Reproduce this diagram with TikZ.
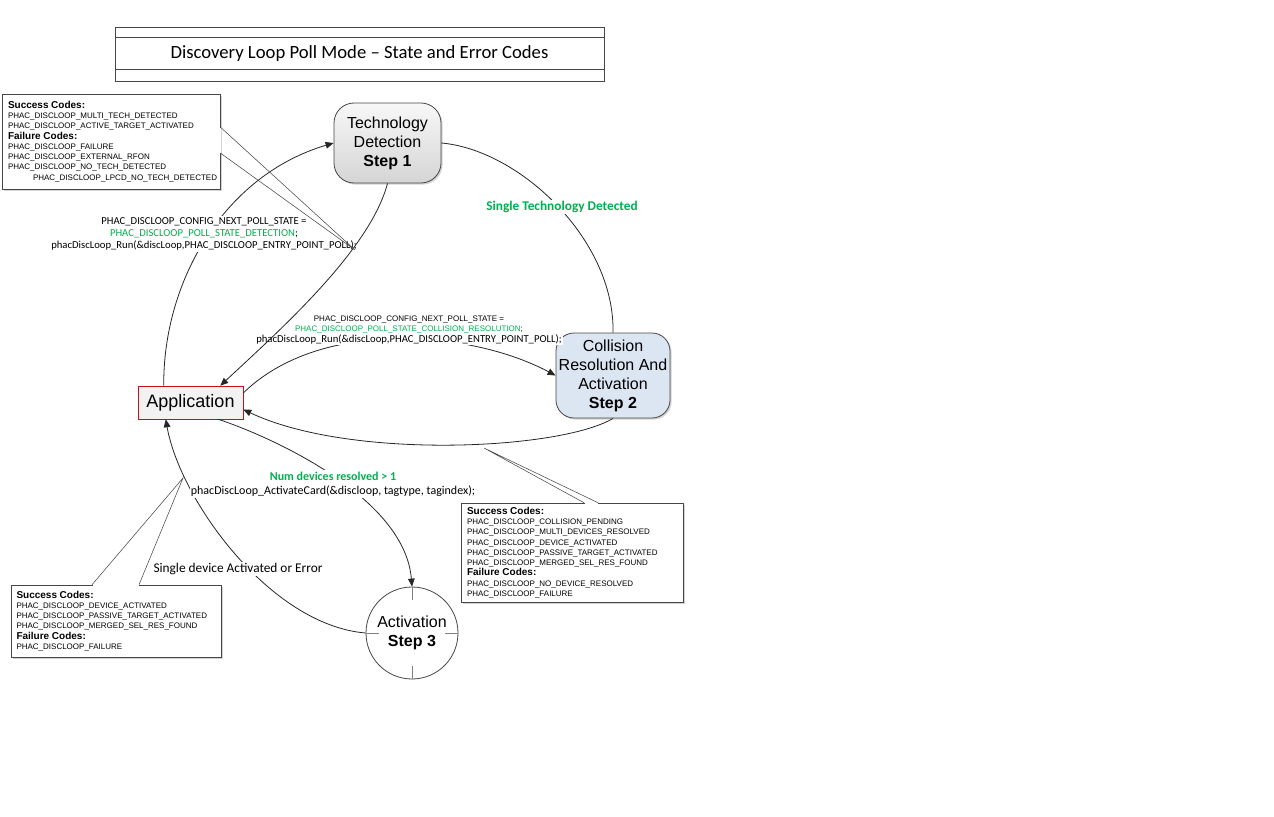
\documentclass[tikz,border=0pt]{standalone}
\usepackage{fontspec}
\setmainfont{Liberation Sans}
\newfontfamily\calibri{Carlito}
\usetikzlibrary{arrows.meta,calc,shadows}
\definecolor{codegreen}{RGB}{0,176,80}
\definecolor{linegray}{RGB}{70,70,70}
\definecolor{stepblue}{RGB}{220,230,242}
\definecolor{appred}{RGB}{192,20,20}
\newcommand{\hdr}[1]{{\bfseries\fontsize{7.5}{7.7}\selectfont #1}}

\begin{document}
\begin{tikzpicture}[x=0.75pt,y=-0.75pt]
\tikzstyle{stateStyle}=[draw=linegray, line width=0.6pt, align=center, inner sep=0pt, font=\fontsize{12}{14.25}\selectfont]
\tikzstyle{shadowStyle}=[drop shadow={shadow xshift=1.2pt, shadow yshift=-1.2pt, opacity=0.35}]
\tikzstyle{codeStyle}=[draw=linegray, fill=white, shadowStyle, inner sep=0pt, align=left, font=\fontsize{6}{7.7}\selectfont]
\tikzstyle{lblStyle}=[fill=white, inner sep=1pt, align=center, font=\calibri\fontsize{8}{9}\selectfont]
\tikzstyle{EdgeStyle}=[draw=black!85, line width=0.6pt]
\tikzstyle{arrowStyle}=[EdgeStyle, -{Triangle[length=6pt,width=5pt]}]
\useasboundingbox (0,0) rectangle (1274,817);
\node[draw=linegray, minimum width=366.75pt, minimum height=40.5pt, inner sep=0pt, font=\calibri\fontsize{14}{16}\selectfont] (title) at (359.5,54) {Discovery Loop Poll Mode – State and Error Codes};
\draw[linegray] ($(title.north west)+(0,11)$) -- ($(title.north east)+(0,11)$);
\draw[linegray] ($(title.south west)+(0,-12)$) -- ($(title.south east)+(0,-12)$);
\node[stateStyle, shadowStyle, rounded corners=15pt, top color=gray!6, bottom color=gray!33, minimum width=80.25pt, minimum height=60pt] (s1) at (387.5,143) {Technology\\Detection\\\textbf{Step 1}};
\node[stateStyle, shadowStyle, rounded corners=13.5pt, fill=stepblue, minimum width=85.5pt, minimum height=63.75pt] (s2) at (613,375.5) {Collision\\Resolution And\\Activation\\\textbf{Step 2}};
\node[stateStyle, circle, fill=white, minimum size=69pt] (s3) at (412,633) {Activation\\\textbf{Step 3}};
\draw[gray] (s3.north) -- ++(0,13) (s3.south) -- ++(0,-13) (s3.west) -- ++(13,0) (s3.east) -- ++(-13,0);
\node[draw=appred, fill=gray!10, minimum width=78.75pt, minimum height=24.75pt, inner sep=0pt, font=\fontsize{13.5}{16}\selectfont] (app) at (190.5,402.5) {Application};
\node[codeStyle, minimum width=163.5pt, minimum height=71.25pt, text width=154.5pt] (c1) at (111,141.5) {\hdr{Success Codes:}\\PHAC\_DISCLOOP\_MULTI\_TECH\_DETECTED\\PHAC\_DISCLOOP\_ACTIVE\_TARGET\_ACTIVATED\\\hdr{Failure Codes:}\\PHAC\_DISCLOOP\_FAILURE\\PHAC\_DISCLOOP\_EXTERNAL\_RFON\\PHAC\_DISCLOOP\_NO\_TECH\_DETECTED\\\hspace*{18.75pt}PHAC\_DISCLOOP\_LPCD\_NO\_TECH\_DETECTED};
\node[codeStyle, minimum width=166.5pt, minimum height=74.25pt, text width=157.5pt] (c2) at (572,552.5) {\hdr{Success Codes:}\\PHAC\_DISCLOOP\_COLLISION\_PENDING\\PHAC\_DISCLOOP\_MULTI\_DEVICES\_RESOLVED\\PHAC\_DISCLOOP\_DEVICE\_ACTIVATED\\PHAC\_DISCLOOP\_PASSIVE\_TARGET\_ACTIVATED\\PHAC\_DISCLOOP\_MERGED\_SEL\_RES\_FOUND\\\hdr{Failure Codes:}\\PHAC\_DISCLOOP\_NO\_DEVICE\_RESOLVED\\PHAC\_DISCLOOP\_FAILURE};
\node[codeStyle, minimum width=157.5pt, minimum height=54pt, text width=149.25pt] (c3) at (116,621) {\hdr{Success Codes:}\\PHAC\_DISCLOOP\_DEVICE\_ACTIVATED\\PHAC\_DISCLOOP\_PASSIVE\_TARGET\_ACTIVATED\\PHAC\_DISCLOOP\_MERGED\_SEL\_RES\_FOUND\\\hdr{Failure Codes:}\\PHAC\_DISCLOOP\_FAILURE};
\draw[arrowStyle] ($(app.north west)+(26,0)$) .. controls (163,280) and (225,175) .. (s1.west);
\draw[EdgeStyle] (s1.east) .. controls (520,150) and (615,240) .. (s2.north);
\draw[arrowStyle] ($(app.east)+(0,-9.5)$) .. controls (320,318) and (470,330) .. (s2.west);
\draw[arrowStyle] (s2.south) .. controls (560,450) and (350,460) .. ($(app.east)+(0,7)$);
\draw[arrowStyle] ($(app.south east)+(-25,0)$) .. controls (280,440) and (405,500) .. (s3.north);
\draw[arrowStyle] (s3.west) .. controls (270,625) and (180,500) .. ($(app.south west)+(28,0)$);
\node[lblStyle] (la) at (204,234) {PHAC\_DISCLOOP\_CONFIG\_NEXT\_POLL\_STATE =\\\textcolor{codegreen}{PHAC\_DISCLOOP\_POLL\_STATE\_DETECTION};\\phacDiscLoop\_Run(\&discLoop,PHAC\_DISCLOOP\_ENTRY\_POINT\_POLL);};
\node[lblStyle, font=\calibri\bfseries\fontsize{10}{12}\selectfont, text=codegreen] (lc) at (562,207) {Single Technology Detected};
\node[lblStyle, font=\fontsize{6}{7.7}\selectfont] (ld) at (409,330) {PHAC\_DISCLOOP\_CONFIG\_NEXT\_POLL\_STATE =\\\textcolor{codegreen}{PHAC\_DISCLOOP\_POLL\_STATE\_COLLISION\_RESOLUTION};\\{\calibri\fontsize{8}{9}\selectfont phacDiscLoop\_Run(\&discLoop,PHAC\_DISCLOOP\_ENTRY\_POINT\_POLL);}};
\node[lblStyle, font=\calibri\fontsize{9}{10.5}\selectfont] (lf) at (333,484) {\textcolor{codegreen}{\bfseries\fontsize{9}{10}\selectfont Num devices resolved > 1}\\phacDiscLoop\_ActivateCard(\&discloop, tagtype, tagindex);};
\node[lblStyle, font=\calibri\fontsize{10}{12}\selectfont] (lg) at (238,569) {Single device Activated or Error};
\draw[arrowStyle] (s1.south) .. controls (370,250) and (280,330) .. ($(app.north east)+(-23,0)$);
\coordinate (p1) at (355,250);
\coordinate (p2) at (484,448);
\coordinate (p3) at (183,478);
\draw[white, line width=1.4pt] ($(c1.east)+(0,-14)$) -- ($(c1.east)+(0,11)$);
\draw[linegray] ($(c1.east)+(0,-14.5)$) -- (p1) -- ($(c1.east)+(0,11.5)$);
\draw[white, line width=1.4pt] ($(c2.north)+(12.5,0)$) -- ($(c2.north)+(25.5,0)$);
\draw[linegray] ($(c2.north)+(12,0)$) -- (p2) -- ($(c2.north)+(26,0)$);
\draw[white, line width=1.4pt] ($(c3.north)+(-23.5,0)$) -- ($(c3.north)+(22.5,0)$);
\draw[linegray] ($(c3.north)+(-24,0)$) -- (p3) -- ($(c3.north)+(23,0)$);
\end{tikzpicture}
\end{document}
